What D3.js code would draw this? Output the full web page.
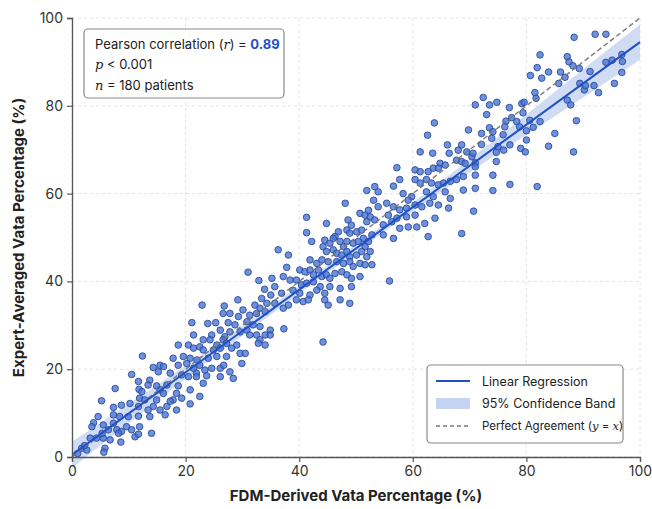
<!DOCTYPE html>
<html>
<head>
<meta charset="utf-8">
<script src="https://cdn.jsdelivr.net/npm/d3@7"></script>
<style>
  body { margin: 0; background: #fff; }
  svg { font-family: Inter, "Noto Sans", sans-serif; }
</style>
</head>
<body>
<svg id="chart" width="652" height="509"></svg>
<script>
// FDM-derived (x) vs expert-averaged (y) Vata percentage
var vataFdm = [
  12.4,7.6,5.2,10.5,11.7,11.8,12.3,13.7,13.4,14.3,15.5,16.1,15.2,15.5,14.9,16.1,16.7,7.3,8.7,10.2,
  11.9,12.8,11.7,13.4,14.3,14.9,15.5,13.7,3.8,4.6,3.5,5.5,6.4,7.3,7.9,8.7,9.6,10.5,11.1,11.7,
  11.9,14.0,3.2,4.3,5.5,6.7,1.7,2.6,5.8,16.7,9.9,8.4,19.3,20.8,22.5,23.1,20.8,20.5,21.9,18.4,
  18.7,17.8,18.4,17.3,1.0,2.2,8.6,5.6,5.3,7.3,11.7,16.4,8.2,
  31.0,32.9,33.9,29.2,22.9,26.8,26.6,27.8,30.1,29.3,31.3,32.5,32.2,33.4,34.3,33.1,34.0,21.1,23.9,25.3,
  27.5,28.7,30.8,31.9,33.1,34.9,24.6,26.1,26.9,21.4,27.8,29.6,30.8,31.3,32.5,34.0,34.9,33.1,32.8,34.0,
  23.1,24.3,25.5,26.6,27.2,18.7,20.5,21.4,22.5,23.1,24.9,26.1,28.1,29.0,29.6,30.5,27.2,25.5,24.0,17.8,
  19.6,20.8,22.0,29.9,18.7,20.2,21.4,22.5,23.4,24.6,26.1,26.7,27.8,17.3,19.3,21.9,23.7,26.1,28.4,
  51.9,48.1,50.7,51.6,52.2,52.5,51.9,41.3,44.8,48.6,49.2,41.3,46.9,46.3,48.4,48.9,50.1,51.0,51.3,52.2,
  52.8,42.2,44.5,45.4,46.0,47.2,47.8,48.4,49.5,50.4,51.6,36.3,38.1,44.2,44.8,46.0,46.6,47.5,48.4,48.9,
  50.1,51.0,51.9,52.5,41.9,43.1,44.0,45.1,46.6,47.8,48.9,49.5,50.7,51.6,52.8,37.8,37.2,35.2,40.1,41.0,
  41.9,42.5,43.4,44.0,44.8,45.4,46.3,47.5,48.4,49.2,50.7,38.4,39.5,40.4,41.3,42.5,43.7,35.7,36.9,35.0,
  38.9,40.1,41.9,43.1,44.5,45.4,47.2,49.2,44.5,45.1,47.2,48.9,39.5,40.7,41.6,38.1,37.2,35.7,44.2,37.3,55.9,
  63.8,62.6,61.3,63.5,66.1,66.4,68.0,68.6,69.5,64.8,65.7,63.6,64.5,67.7,68.6,69.2,57.2,60.4,61.3,62.7,
  57.7,60.4,61.3,62.4,63.3,64.5,65.4,66.6,67.7,68.9,53.3,53.9,56.6,58.3,59.8,59.2,62.4,63.6,65.7,66.6,
  68.9,53.1,53.9,55.4,56.6,57.7,58.9,60.4,61.6,63.0,64.5,66.3,55.7,57.2,58.9,60.4,62.1,63.9,53.3,54.8,
  56.3,57.7,59.2,60.7,68.6,62.7,54.8,56.6,
  88.4,92.1,94.0,82.4,87.2,87.5,88.2,81.9,83.9,80.7,82.7,86.0,86.8,89.3,91.2,94.0,95.1,96.8,96.9,96.8,
  95.5,91.9,92.7,89.4,90.2,90.4,85.7,81.5,81.7,87.2,87.8,72.4,71.0,73.5,74.8,77.0,79.2,79.6,79.4,73.0,
  76.4,77.4,78.3,80.6,82.4,69.8,73.5,74.1,76.2,78.8,80.0,81.2,72.1,73.9,75.9,77.1,80.0,85.0,88.8,72.1,
  75.0,74.7,79.0,79.8,83.9,88.3,74.7,71.0,70.4,77.1,74.1,71.0,74.1,71.0,71.0,70.7,81.9,70.6,76.0
];
var vataExpert = [
  23.0,15.6,12.8,18.8,17.2,15.4,14.9,17.5,16.4,20.4,20.9,20.6,19.4,15.3,16.2,14.5,16.4,11.3,11.8,12.2,
  13.4,13.0,11.5,10.7,11.5,13.0,10.7,9.2,7.8,9.2,6.9,7.3,6.2,7.7,6.2,5.8,6.9,6.2,4.6,5.2,
  6.9,5.4,4.3,4.3,4.3,3.9,2.0,1.6,2.0,11.5,9.2,9.2,13.4,15.3,13.8,16.8,12.1,18.3,19.1,14.5,
  16.2,13.0,10.7,12.7,0.8,2.6,3.4,1.1,5.4,9.6,9.3,9.6,5.4,
  42.1,40.2,38.2,35.8,34.6,34.4,32.7,32.7,33.5,32.0,32.3,32.7,34.6,36.1,35.0,33.9,33.1,30.6,30.4,30.6,
  30.6,30.1,30.8,30.1,29.7,28.9,27.8,28.9,27.4,27.8,28.5,28.5,28.9,27.8,27.8,27.8,27.8,26.7,25.9,25.5,
  26.7,26.7,25.5,26.7,25.9,25.5,25.5,24.8,25.1,24.4,24.4,24.8,24.8,25.5,23.6,23.6,22.9,22.9,22.5,22.5,
  22.9,22.5,22.1,21.3,20.9,21.3,20.2,20.9,19.8,20.2,20.2,20.9,19.4,19.1,18.7,18.3,18.5,18.3,17.9,
  60.7,57.8,55.5,55.1,56.2,54.7,53.6,54.6,53.2,54.0,52.8,51.1,51.3,50.2,51.7,51.0,51.3,51.7,49.8,49.1,
  50.6,49.1,49.4,48.7,49.8,49.1,47.9,49.1,48.7,49.1,47.9,47.2,46.0,47.9,46.8,47.2,46.4,46.0,46.8,45.6,
  46.0,46.8,45.6,46.8,44.9,44.1,44.9,44.5,44.5,44.1,44.5,43.4,44.1,43.8,43.8,43.2,41.1,40.7,42.6,42.2,
  42.6,41.5,42.6,41.1,41.5,40.7,41.8,42.2,41.5,40.7,41.1,40.3,40.3,39.2,39.6,39.9,38.8,38.8,37.3,36.9,
  38.0,37.3,36.9,38.0,37.3,38.8,38.4,38.8,35.8,34.6,35.8,35.0,35.8,35.4,35.8,34.6,33.9,35.0,26.2,29.2,40.1,
  76.1,73.3,69.5,69.2,71.1,69.2,69.9,71.1,69.5,66.9,66.5,65.8,65.8,67.6,67.3,66.9,65.9,65.4,65.0,65.0,
  63.2,63.2,62.4,63.2,62.4,62.0,62.4,62.8,63.2,63.9,61.6,60.4,61.7,60.0,59.3,58.5,60.4,59.3,60.4,58.9,
  60.8,58.5,57.0,57.8,57.0,56.3,56.7,57.4,57.0,57.8,57.4,56.7,55.1,54.4,54.7,55.1,53.2,54.4,54.0,52.9,
  53.6,52.1,52.4,52.4,50.9,50.2,50.6,49.8,
  95.6,96.3,96.3,91.6,91.2,90.0,89.1,88.7,87.7,86.9,86.3,87.7,86.5,88.5,87.8,89.9,90.4,91.7,90.1,87.6,
  85.1,84.6,83.0,85.1,83.6,84.6,85.1,83.0,81.7,81.3,80.2,81.9,80.2,80.2,80.8,79.6,80.5,80.8,78.4,78.0,
  76.5,77.3,76.4,76.7,76.4,74.5,75.0,74.1,75.2,75.2,74.3,75.1,73.7,72.6,73.4,71.1,72.2,73.7,76.6,71.2,
  70.7,69.4,70.3,69.5,70.8,69.5,67.3,67.0,68.4,62.1,60.7,61.2,64.2,64.2,66.1,56.0,61.6,69.2,69.9
];

// fitted regression and its 95% band half-width
var fitSlope = 0.94, fitIntercept = 0.5;
var bandX    = [0,   10,  20,  30,  40,  50,  60,  70,  80,  90,  100];
var bandHalf = [3.0, 2.2, 1.5, 1.1, 0.9, 0.9, 1.0, 1.5, 2.3, 3.2, 4.0];
var ticks = [0, 20, 40, 60, 80, 100];

var margin = {top: 18, right: 12, bottom: 52, left: 72};
var width = 652 - margin.left - margin.right,
    height = 509 - margin.top - margin.bottom;

var svg = d3.select("#chart");
var g = svg.append("g").attr("transform", "translate(" + margin.left + "," + margin.top + ")");

var x = d3.scaleLinear().domain([0, 100]).range([0, width]);
var y = d3.scaleLinear().domain([0, 100]).range([height, 0]);

// grid
g.append("g").selectAll("line.gx").data(ticks).enter().append("line")
    .attr("x1", function(d) { return x(d); }).attr("x2", function(d) { return x(d); })
    .attr("y1", 0).attr("y2", height)
    .style("stroke", "#e2e2e2").style("stroke-dasharray", "3,3");
g.append("g").selectAll("line.gy").data(ticks).enter().append("line")
    .attr("y1", function(d) { return y(d); }).attr("y2", function(d) { return y(d); })
    .attr("x1", 0).attr("x2", width)
    .style("stroke", "#e2e2e2").style("stroke-dasharray", "3,3");

// confidence band
var band = bandX.map(function(v, i) {
    var m = fitIntercept + fitSlope * v;
    return {x: v, lo: m - bandHalf[i], hi: m + bandHalf[i]};
});
g.append("path")
    .datum(band)
    .attr("d", d3.area().curve(d3.curveMonotoneX)
        .x(function(d) { return x(d.x); })
        .y0(function(d) { return y(d.lo); })
        .y1(function(d) { return y(d.hi); }))
    .style("fill", "#c3d3f1").style("opacity", 0.8);

// points
var pts = vataFdm.map(function(v, i) { return [v, vataExpert[i]]; });
g.append("g").selectAll("circle").data(pts).enter().append("circle")
    .attr("cx", function(d) { return x(d[0]); })
    .attr("cy", function(d) { return y(d[1]); })
    .attr("r", 3.3)
    .style("fill", "#4a74d4").style("fill-opacity", 0.8)
    .style("stroke", "#2a4c9e").style("stroke-width", 0.9);

// perfect agreement
g.append("line")
    .attr("x1", x(0)).attr("y1", y(0)).attr("x2", x(100)).attr("y2", y(100))
    .style("stroke", "#777").style("stroke-width", 1.4).style("stroke-dasharray", "5,3");

// regression line
g.append("line")
    .attr("x1", x(0)).attr("y1", y(fitIntercept))
    .attr("x2", x(100)).attr("y2", y(fitIntercept + fitSlope * 100))
    .style("stroke", "#1f4fc6").style("stroke-width", 2);

// axes
var xAxis = g.append("g").attr("transform", "translate(0," + height + ")")
    .call(d3.axisBottom(x).tickValues(ticks).tickSize(5).tickPadding(4));
var yAxis = g.append("g")
    .call(d3.axisLeft(y).tickValues(ticks).tickSize(5).tickPadding(4));
[xAxis, yAxis].forEach(function(a) {
    a.select(".domain").style("stroke", "#555").style("stroke-width", 1.3);
    a.selectAll(".tick line").style("stroke", "#555").style("stroke-width", 1.2);
    a.selectAll(".tick text").style("font-size", "14px").style("fill", "#333")
        .style("font-family", "Inter, sans-serif");
});

svg.append("text")
    .attr("x", margin.left + width / 2).attr("y", 501)
    .attr("text-anchor", "middle")
    .style("font-size", "15px").style("font-weight", "bold").style("fill", "#222")
    .text("FDM-Derived Vata Percentage (%)");
svg.append("text")
    .attr("transform", "translate(24," + (margin.top + height / 2) + ") rotate(-90)")
    .attr("text-anchor", "middle")
    .style("font-size", "15px").style("font-weight", "bold").style("fill", "#222")
    .text("Expert-Averaged Vata Percentage (%)");

// stats box
var stats = svg.append("g");
stats.append("rect")
    .attr("x", 84).attr("y", 29).attr("width", 200).attr("height", 69).attr("rx", 4)
    .style("fill", "#fff").style("stroke", "#8a8a8a").style("stroke-width", 1.2);
var serif = "'DejaVu Serif', 'Liberation Serif', serif";
var t1 = stats.append("text").attr("x", 95).attr("y", 49).style("font-size", "13px").style("fill", "#222");
t1.append("tspan").text("Pearson correlation (");
t1.append("tspan").style("font-style", "italic").style("font-family", serif).text("r");
t1.append("tspan").text(") = ");
t1.append("tspan").style("font-weight", "bold").style("fill", "#1f4fc6").text("0.89");
var t2 = stats.append("text").attr("x", 95).attr("y", 69).style("font-size", "13px").style("fill", "#222");
t2.append("tspan").style("font-style", "italic").style("font-family", serif).text("p");
t2.append("tspan").text(" < 0.001");
var t3 = stats.append("text").attr("x", 95).attr("y", 90).style("font-size", "13px").style("fill", "#222");
t3.append("tspan").style("font-style", "italic").style("font-family", serif).text("n");
t3.append("tspan").text(" = 180 patients");

// legend
var leg = svg.append("g");
leg.append("rect")
    .attr("x", 427).attr("y", 365).attr("width", 196).attr("height", 78).attr("rx", 4)
    .style("fill", "#fff").style("stroke", "#8a8a8a").style("stroke-width", 1.2);
leg.append("line").attr("x1", 436).attr("x2", 470).attr("y1", 381).attr("y2", 381)
    .style("stroke", "#1f4fc6").style("stroke-width", 2);
leg.append("rect").attr("x", 436).attr("y", 398).attr("width", 34).attr("height", 11)
    .style("fill", "#c3d3f1");
leg.append("line").attr("x1", 436).attr("x2", 470).attr("y1", 426).attr("y2", 426)
    .style("stroke", "#777").style("stroke-width", 1.4).style("stroke-dasharray", "4,3");
leg.append("text").attr("x", 482).attr("y", 386).style("font-size", "12.5px").style("fill", "#222")
    .text("Linear Regression");
leg.append("text").attr("x", 482).attr("y", 408).style("font-size", "12.5px").style("fill", "#222")
    .text("95% Confidence Band");
var t4 = leg.append("text").attr("x", 482).attr("y", 430).style("font-size", "11.5px").style("fill", "#222");
t4.append("tspan").text("Perfect Agreement (");
t4.append("tspan").style("font-style", "italic").style("font-family", serif).text("y");
t4.append("tspan").text(" = ");
t4.append("tspan").style("font-style", "italic").style("font-family", serif).text("x");
t4.append("tspan").text(")");
</script>
</body>
</html>
